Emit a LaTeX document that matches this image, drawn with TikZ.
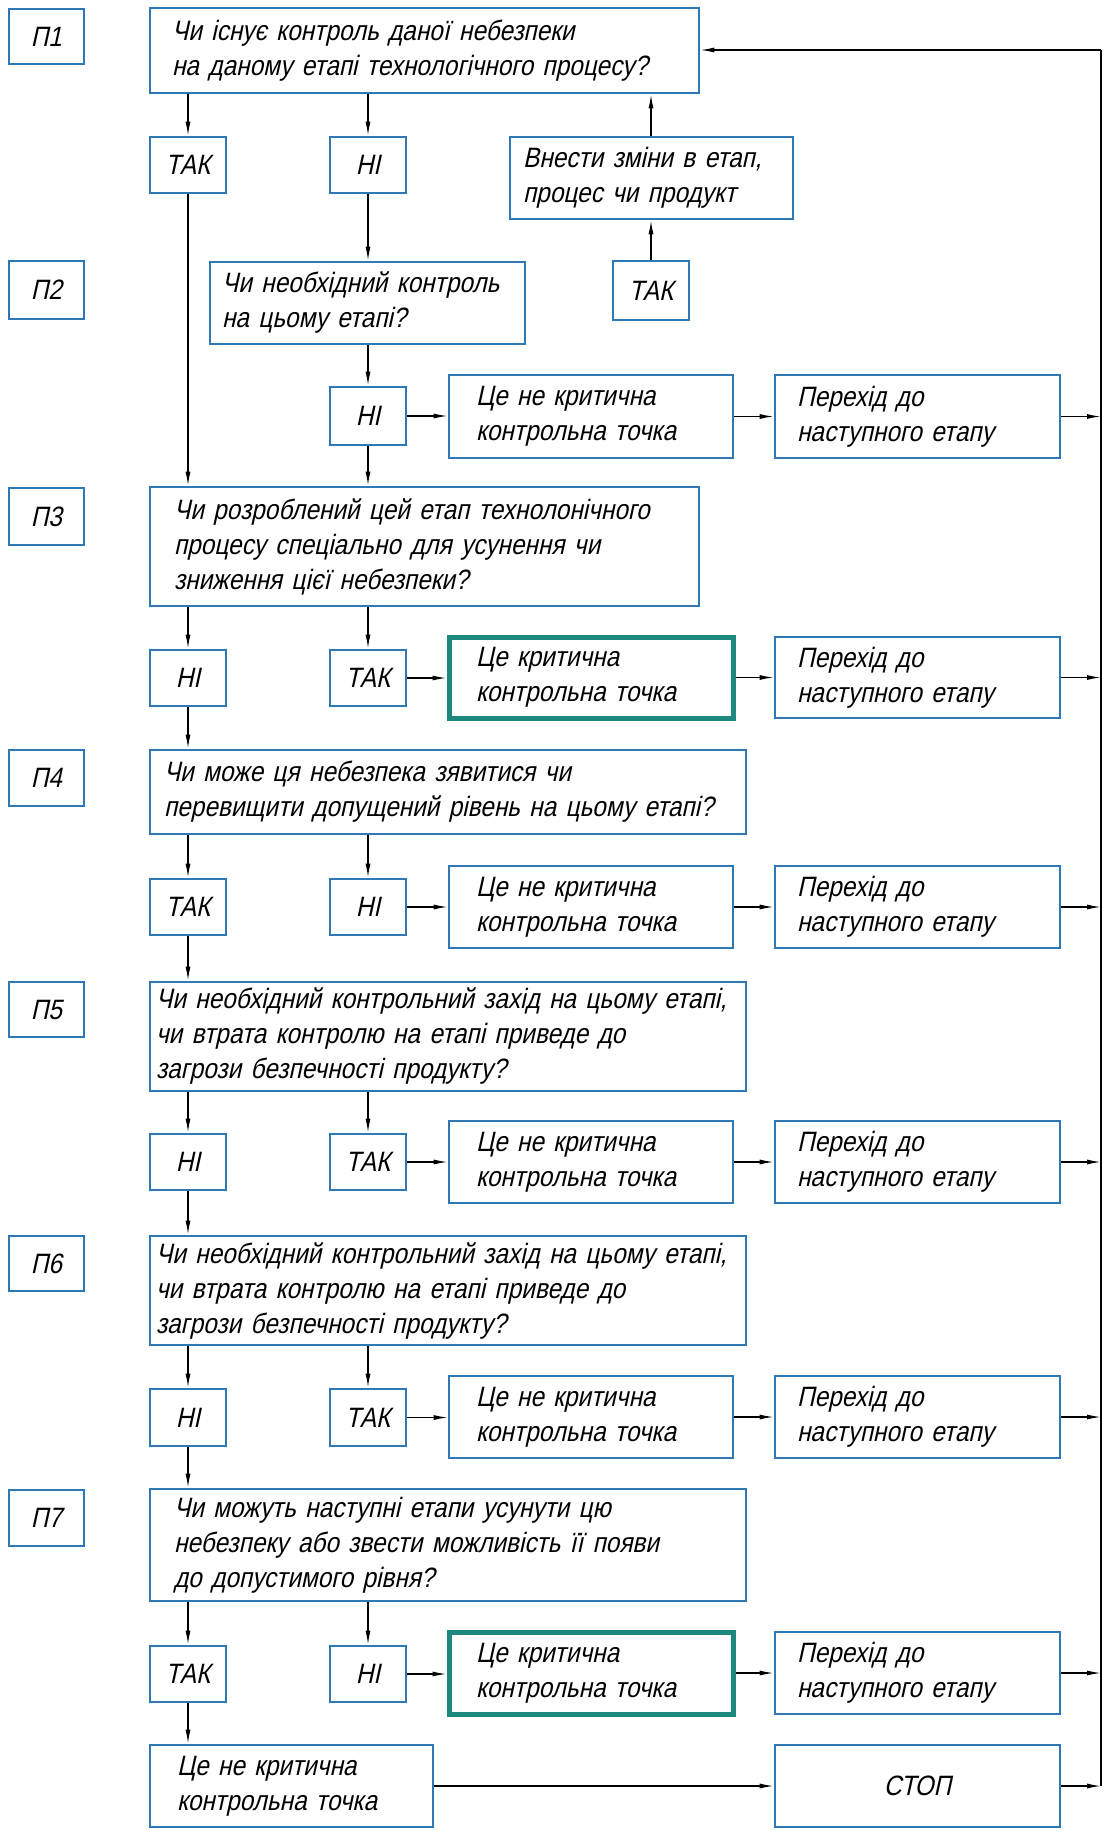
\documentclass[tikz,border=0pt]{standalone}
\usepackage{fontspec}
\usetikzlibrary{arrows.meta}
\newfontfamily\gost{Liberation Sans}[FakeStretch=0.87, FakeSlant=0.22]
\definecolor{boxblue}{RGB}{46,120,182}
\definecolor{critteal}{RGB}{30,136,126}

% box placed by its corners: [style]{name}{x1}{y1}{x2}{y2}{padding}{text}
\newcommand{\stagebox}[8][box]{%
  \pgfmathsetmacro{\bw}{#5-#3}%
  \pgfmathsetmacro{\bh}{#6-#4}%
  \pgfmathsetmacro{\tw}{#5-#3-2*#7}%
  \node[#1, minimum width=\bw pt, minimum height=\bh pt, text width=\tw pt,
        inner xsep=#7 pt] (#2) at ({(#3+#5)/2},{(#4+#6)/2}) {#8};}

\tikzset{
  box/.style={draw=boxblue, line width=2.6pt, fill=white, align=left,
              inner ysep=0pt, font={\gost\fontsize{28}{35}\selectfont}},
  tag/.style={box, align=center},
  crit/.style={box, draw=critteal, line width=5pt},
  arr/.style={line width=1.3pt, -{Latex[length=14pt,width=5pt]}},
  rail/.style={line width=1.3pt},
}

\begin{document}
\begin{tikzpicture}[x=1pt, y=-1pt]
\useasboundingbox (0,0) rectangle (1107,1836);

% step labels
\stagebox[tag]{p1}{9}{9}{84}{64}{4}{П1}
\stagebox[tag]{p2}{9}{261}{84}{319}{4}{П2}
\stagebox[tag]{p3}{9}{488}{84}{545}{4}{П3}
\stagebox[tag]{p4}{9}{750}{84}{806}{4}{П4}
\stagebox[tag]{p5}{9}{982}{84}{1037}{4}{П5}
\stagebox[tag]{p6}{9}{1236}{84}{1291}{4}{П6}
\stagebox[tag]{p7}{9}{1490}{84}{1546}{4}{П7}

% question 1
\stagebox{q1}{150}{8}{699}{93}{22}{Чи існує контроль даної небезпеки\\на даному етапі технологічного процесу?}
\stagebox[tag]{tak1}{150}{137}{226}{193}{4}{ТАК}
\stagebox[tag]{ni1}{330}{137}{406}{193}{4}{НІ}
\stagebox{change}{510}{137}{793}{219}{13}{Внести зміни в етап,\\процес чи продукт}
\stagebox[tag]{takc}{613}{261}{689}{320}{4}{ТАК}

% question 2
\stagebox{q2}{210}{262}{525}{344}{12}{Чи необхідний контроль\\на цьому етапі?}
\stagebox[tag]{ni2}{330}{387}{406}{445}{4}{НІ}
\stagebox{nk2}{449}{375}{733}{458}{27}{Це не критична\\контрольна точка}
\stagebox{ph2}{775}{375}{1060}{458}{22}{Перехід до\\наступного етапу}

% question 3
\stagebox{q3}{150}{487}{699}{606}{24}{Чи розроблений цей етап технолонічного\\процесу спеціально для усунення чи\\зниження цієї небезпеки?}
\stagebox[tag]{ni3}{150}{650}{226}{706}{4}{НІ}
\stagebox[tag]{tak3}{330}{650}{406}{706}{4}{ТАК}
\stagebox[crit]{cr3}{449}{637}{733}{718}{27}{Це критична\\контрольна точка}
\stagebox{ph3}{775}{637}{1060}{718}{22}{Перехід до\\наступного етапу}

% question 4
\stagebox{q4}{150}{750}{746}{834}{14}{Чи може ця небезпека зявитися чи\\перевищити допущений рівень на цьому етапі?}
\stagebox[tag]{tak4}{150}{879}{226}{935}{4}{ТАК}
\stagebox[tag]{ni4}{330}{879}{406}{935}{4}{НІ}
\stagebox{nk4}{449}{866}{733}{948}{27}{Це не критична\\контрольна точка}
\stagebox{ph4}{775}{866}{1060}{948}{22}{Перехід до\\наступного етапу}

% question 5
\stagebox{q5}{150}{982}{746}{1091}{6}{Чи необхідний контрольний захід на цьому етапі,\\чи втрата контролю на етапі приведе до\\загрози безпечності продукту?}
\stagebox[tag]{ni5}{150}{1134}{226}{1190}{4}{НІ}
\stagebox[tag]{tak5}{330}{1134}{406}{1190}{4}{ТАК}
\stagebox{nk5}{449}{1121}{733}{1203}{27}{Це не критична\\контрольна точка}
\stagebox{ph5}{775}{1121}{1060}{1203}{22}{Перехід до\\наступного етапу}

% question 6
\stagebox{q6}{150}{1236}{746}{1345}{6}{Чи необхідний контрольний захід на цьому етапі,\\чи втрата контролю на етапі приведе до\\загрози безпечності продукту?}
\stagebox[tag]{ni6}{150}{1389}{226}{1446}{4}{НІ}
\stagebox[tag]{tak6}{330}{1389}{406}{1446}{4}{ТАК}
\stagebox{nk6}{449}{1376}{733}{1458}{27}{Це не критична\\контрольна точка}
\stagebox{ph6}{775}{1376}{1060}{1458}{22}{Перехід до\\наступного етапу}

% question 7
\stagebox{q7}{150}{1489}{746}{1601}{24}{Чи можуть наступні етапи усунути цю\\небезпеку або звести можливість її появи\\до допустимого рівня?}
\stagebox[tag]{tak7}{150}{1646}{226}{1702}{4}{ТАК}
\stagebox[tag]{ni7}{330}{1646}{406}{1702}{4}{НІ}
\stagebox[crit]{cr7}{449}{1632}{733}{1714}{27}{Це критична\\контрольна точка}
\stagebox{ph7}{775}{1632}{1060}{1714}{22}{Перехід до\\наступного етапу}

% final outcome
\stagebox{nk8}{150}{1745}{433}{1827}{27}{Це не критична\\контрольна точка}
\stagebox[tag]{stop}{775}{1745}{1060}{1827}{22}{СТОП}

% return line on the right
\coordinate (railtop) at (1101,50);
\coordinate (railbot) at (stop.east -| railtop);

% question 1 branches
\draw[arr] (tak1.north |- q1.south) -- (tak1.north);
\draw[arr] (ni1.north |- q1.south) -- (ni1.north);
\draw[arr] (takc.north) -- (change.south -| takc.north);
\draw[arr] (change.north -| takc.north) -- (takc.north |- q1.south);
\draw[arr] (ni1.south) -- (ni1.south |- q2.north);
\draw[arr] (tak1.south) -- (tak1.south |- q3.north);

% question 2 branches
\draw[arr] (ni2.north |- q2.south) -- (ni2.north);
\draw[arr] (ni2.east) -- (ni2.east -| nk2.west);
\draw[arr] (nk2.east) -- (nk2.east -| ph2.west);
\draw[arr] (ph2.east) -- (ph2.east -| railtop);
\draw[arr] (ni2.south) -- (ni2.south |- q3.north);

% question 3 branches
\draw[arr] (ni3.north |- q3.south) -- (ni3.north);
\draw[arr] (tak3.north |- q3.south) -- (tak3.north);
\draw[arr] (tak3.east) -- (tak3.east -| cr3.west);
\draw[arr] (cr3.east) -- (cr3.east -| ph3.west);
\draw[arr] (ph3.east) -- (ph3.east -| railtop);
\draw[arr] (ni3.south) -- (ni3.south |- q4.north);

% question 4 branches
\draw[arr] (tak4.north |- q4.south) -- (tak4.north);
\draw[arr] (ni4.north |- q4.south) -- (ni4.north);
\draw[arr] (ni4.east) -- (ni4.east -| nk4.west);
\draw[arr] (nk4.east) -- (nk4.east -| ph4.west);
\draw[arr] (ph4.east) -- (ph4.east -| railtop);
\draw[arr] (tak4.south) -- (tak4.south |- q5.north);

% question 5 branches
\draw[arr] (ni5.north |- q5.south) -- (ni5.north);
\draw[arr] (tak5.north |- q5.south) -- (tak5.north);
\draw[arr] (tak5.east) -- (tak5.east -| nk5.west);
\draw[arr] (nk5.east) -- (nk5.east -| ph5.west);
\draw[arr] (ph5.east) -- (ph5.east -| railtop);
\draw[arr] (ni5.south) -- (ni5.south |- q6.north);

% question 6 branches
\draw[arr] (ni6.north |- q6.south) -- (ni6.north);
\draw[arr] (tak6.north |- q6.south) -- (tak6.north);
\draw[arr] (tak6.east) -- (tak6.east -| nk6.west);
\draw[arr] (nk6.east) -- (nk6.east -| ph6.west);
\draw[arr] (ph6.east) -- (ph6.east -| railtop);
\draw[arr] (ni6.south) -- (ni6.south |- q7.north);

% question 7 branches
\draw[arr] (tak7.north |- q7.south) -- (tak7.north);
\draw[arr] (ni7.north |- q7.south) -- (ni7.north);
\draw[arr] (ni7.east) -- (ni7.east -| cr7.west);
\draw[arr] (cr7.east) -- (cr7.east -| ph7.west);
\draw[arr] (ph7.east) -- (ph7.east -| railtop);
\draw[arr] (tak7.south) -- (tak7.south |- nk8.north);

% end of analysis
\draw[arr] (nk8.east) -- (nk8.east -| stop.west);
\draw[arr] (stop.east) -- (railbot);
\draw[rail] (railbot) -- (railtop);
\draw[arr] (railtop) -- (railtop -| q1.east);
\end{tikzpicture}
\end{document}
